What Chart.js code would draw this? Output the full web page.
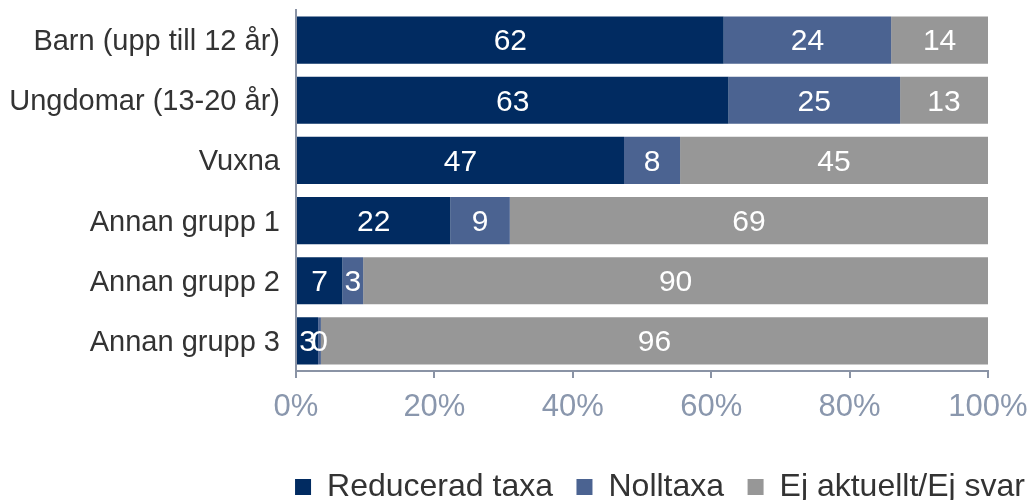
<!DOCTYPE html>
<html>
<head>
<meta charset="utf-8">
<script src="https://cdn.jsdelivr.net/npm/chart.js@4.4.0/dist/chart.umd.min.js"></script>
<style>
  html, body { margin: 0; padding: 0; background: #ffffff; }
  #wrap { width: 1030px; height: 500px; position: relative; }
</style>
</head>
<body>
<div id="wrap"><canvas id="c" width="1030" height="500"></canvas></div>
<script>
const categories = ['Barn (upp till 12 år)', 'Ungdomar (13-20 år)', 'Vuxna', 'Annan grupp 1', 'Annan grupp 2', 'Annan grupp 3'];
const seriesNames = ['Reducerad taxa', 'Nolltaxa', 'Ej aktuellt/Ej svar'];
const reducerad = [61.8, 62.5, 47.4, 22.3, 6.7, 3.2];
const nolltaxa = [24.2, 24.8, 8.1, 8.6, 3.0, 0.4];
const ejAktuellt = [14.0, 12.7, 44.5, 69.1, 90.3, 96.4];
const xTicks = [0, 20, 40, 60, 80, 100];

const FONT = "'Liberation Sans', Arial, sans-serif";

const valueLabels = {
  id: 'valueLabels',
  afterDatasetsDraw(chart) {
    const ctx = chart.ctx;
    ctx.save();
    ctx.fillStyle = '#ffffff';
    ctx.font = '30px ' + FONT;
    ctx.textAlign = 'center';
    ctx.textBaseline = 'middle';
    chart.data.datasets.forEach((ds, di) => {
      const meta = chart.getDatasetMeta(di);
      meta.data.forEach((el, i) => {
        const p = el.getCenterPoint();
        ctx.fillText(String(Math.round(ds.data[i])), p.x, p.y + 2);
      });
    });
    ctx.restore();
  }
};

new Chart(document.getElementById('c'), {
  type: 'bar',
  data: {
    labels: categories,
    datasets: [
      { label: seriesNames[0], data: reducerad, backgroundColor: '#012b61' },
      { label: seriesNames[1], data: nolltaxa, backgroundColor: '#4b6391' },
      { label: seriesNames[2], data: ejAktuellt, backgroundColor: '#979797' }
    ]
  },
  options: {
    indexAxis: 'y',
    responsive: false,
    animation: false,
    devicePixelRatio: 1,
    categoryPercentage: 1,
    barPercentage: 0.783,
    layout: { padding: { top: 10, right: -18.5, bottom: -13, left: 0 } },
    plugins: {
      legend: {
        position: 'bottom',
        align: 'end',
        labels: {
          boxWidth: 16,
          boxHeight: 16,
          padding: 23.5,
          color: '#333333',
          font: { family: FONT, size: 32 }
        }
      },
      tooltip: { enabled: false }
    },
    scales: {
      x: {
        stacked: true,
        min: 0,
        max: 100,
        afterBuildTicks(s) { s.ticks = xTicks.map(v => ({ value: v })); },
        afterFit(s) { s.height = 76.5; s.paddingRight = 42; s.paddingTop = 0; },
        border: { display: true, color: '#8a93a5', width: 2 },
        grid: { display: true, drawOnChartArea: false, drawTicks: true, tickLength: 7, color: '#8a93a5', lineWidth: 2 },
        ticks: {
          padding: 11,
          color: '#8a97ad',
          font: { family: FONT, size: 31 },
          callback: v => v + '%'
        }
      },
      y: {
        stacked: true,
        afterFit(s) { s.width = 296; s.paddingTop = 0; s.paddingBottom = 0; },
        border: { display: true, color: '#8a93a5', width: 2 },
        grid: { display: false, drawTicks: false },
        ticks: {
          padding: 16,
          labelOffset: 2,
          color: '#333333',
          font: { family: FONT, size: 29 }
        }
      }
    }
  },
  plugins: [valueLabels]
});
</script>
</body>
</html>
